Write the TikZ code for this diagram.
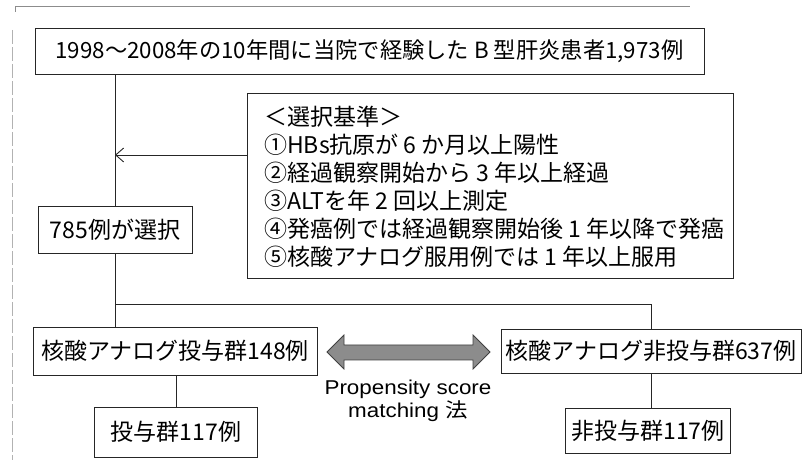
\documentclass[tikz,border=0pt]{standalone}
\usepackage{fontspec}
\setmainfont{Noto Sans CJK JP}
\newfontfamily\latinf{Liberation Sans}
\usetikzlibrary{arrows.meta}
\tikzset{
  box/.style={draw=black!85, line width=0.9pt, rectangle, inner sep=0pt, font=\fontsize{23}{27}\selectfont},
  conn/.style={draw=black!85, line width=0.9pt},
  frameline/.style={draw=black!45, line width=0.6pt},
}
\begin{document}
\begin{tikzpicture}[x=1pt,y=1pt]
\useasboundingbox (0,0) rectangle (809,-470);
% faint outer frame
\draw[frameline] (15,-12) -- (15,-6) -- (690,-6);
\draw[frameline, draw=black!30, dash pattern=on 14pt off 3pt] (12,-30) -- (12,-460);

% nodes
\node[box, minimum width=669pt, minimum height=46pt, font=\fontsize{22.3}{26}\selectfont] (top) at (369.5,-51)
  {1998～2008年の10年間に当院で経験した B 型肝炎患者1,973例};
\node[box, minimum width=486pt, minimum height=185pt] (crit) at (490,-185.5) {};
\node[anchor=west, align=left, inner sep=0pt, font=\fontsize{23}{28}\selectfont] (crittxt) at (264,-187)
  {＜選択基準＞\\
   ①HBs抗原が 6 か月以上陽性\\
   ②経過観察開始から 3 年以上経過\\
   ③ALTを年 2 回以上測定\\
   ④発癌例では経過観察開始後 1 年以降で発癌\\
   ⑤核酸アナログ服用例では 1 年以上服用};
\node[box, minimum width=154pt, minimum height=47pt] (sel) at (115,-229.5) {785例が選択};
\node[box, minimum width=284pt, minimum height=48pt] (g148) at (175,-351) {核酸アナログ投与群148例};
\node[box, minimum width=300pt, minimum height=44pt] (g637) at (651,-351) {核酸アナログ非投与群637例};
\node[box, minimum width=163pt, minimum height=50pt] (l117) at (176,-432) {投与群117例};
\node[box, minimum width=165pt, minimum height=45pt] (r117) at (648,-430.5) {非投与群117例};
\node[align=center, inner sep=0pt, font=\latinf\fontsize{20}{23}\selectfont] (psm) at (408,-401)
  {\scalebox{1.12}[1]{Propensity score}\\\scalebox{1.12}[1]{matching {\rmfamily 法}}};

% connectors
\coordinate (arry) at (0,-155);
\coordinate (hline) at (0,-304);
\draw[conn] (top.south -| sel.north) -- (sel.north);
\draw[conn, -{Straight Barb[length=8pt,width=14pt,line width=0.9pt]}] (crit.west |- arry) -- (sel.center |- arry);
\draw[conn] (sel.south) -- (sel.south |- g148.north);
\draw[conn] (sel.south |- hline) -| (g637.north);
\draw[conn] (g148.south -| l117.north) -- (l117.north);
\draw[conn] (g637.south) -- (g637.south |- r117.north);

% double arrow (matching)
\filldraw[fill=black!45, draw=black!75, line width=0.8pt]
  (327,-352) -- (344,-335) -- (344,-345) -- (473,-345) -- (473,-335) -- (490,-352)
  -- (473,-369) -- (473,-360) -- (344,-360) -- (344,-369) -- cycle;
\end{tikzpicture}
\end{document}
